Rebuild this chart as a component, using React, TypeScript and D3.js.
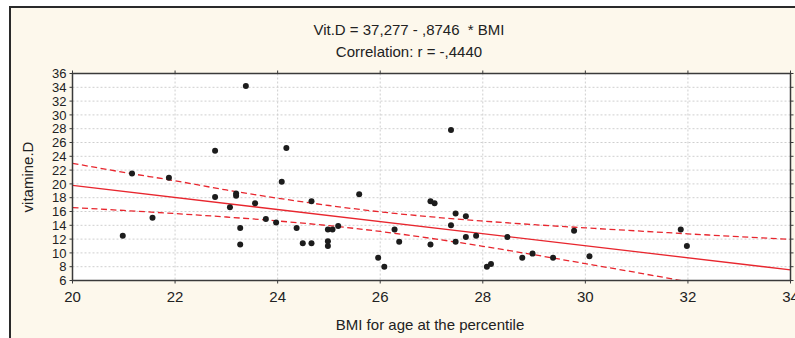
import React from "react";
import * as d3 from "d3";

// Scatter data: BMI (x) and vitamin D (y)
const bmi = [
  20.98, 21.16, 21.56, 21.88, 22.78, 22.78, 23.38, 23.07, 23.19, 23.19, 23.56, 23.27, 23.27,
  23.77, 23.97, 24.08, 24.17, 24.37, 24.49, 24.66, 24.66, 24.98, 25.07, 24.98, 24.98, 25.18,
  25.59, 25.96, 26.08, 26.28, 26.37, 26.98, 27.06, 26.98, 27.38, 27.38, 27.47, 27.47, 27.67,
  27.67, 27.87, 28.08, 28.16, 28.48, 28.77, 28.97, 29.37, 29.78, 30.08, 31.86, 31.98,
];
const vitD = [
  12.5, 21.5, 15.1, 20.9, 24.8, 18.1, 34.2, 16.6, 18.6, 18.3, 17.2, 13.6, 11.2,
  14.9, 14.4, 20.3, 25.2, 13.6, 11.4, 17.5, 11.4, 13.4, 13.4, 11.7, 11.0, 13.9,
  18.5, 9.3, 8.0, 13.4, 11.6, 17.5, 17.2, 11.2, 27.8, 14.0, 15.7, 11.6, 15.3,
  12.3, 12.5, 8.0, 8.4, 12.3, 9.3, 9.9, 9.3, 13.2, 9.5, 13.4, 11.0,
];

// Regression: Vit.D = 37.277 - 0.8746 * BMI
const intercept = 37.277;
const slope = -0.8746;

// 95% confidence band
const bandX = [20, 21, 22, 23, 24, 25, 26, 27, 28, 29, 30, 31, 32, 33, 34];
const bandUpper = [22.99, 21.67, 20.45, 19.12, 17.93, 16.87, 15.95, 15.22, 14.62, 14.09, 13.63, 13.19, 12.76, 12.35, 11.95];
const bandLower = [16.58, 16.15, 15.7, 15.2, 14.63, 13.95, 13.11, 12.1, 10.96, 9.73, 8.45, 7.15, 5.82, 4.47, 3.13];

const xTicks = [20, 22, 24, 26, 28, 30, 32, 34];
const yTicks = [6, 8, 10, 12, 14, 16, 18, 20, 22, 24, 26, 28, 30, 32, 34, 36];

const titleLine1 = "Vit.D = 37,277 - ,8746  * BMI";
const titleLine2 = "Correlation: r = -,4440";
const xLabel = "BMI for age at the percentile";
const yLabel = "vitamine.D";

export default function App() {
  const W = 795;
  const H = 338;
  const left = 72.5;
  const right = 790.5;
  const top = 73.5;
  const bottom = 280.5;
  const x = d3.scaleLinear().domain([20, 34]).range([left, right]);
  const y = d3.scaleLinear().domain([6, 36]).range([bottom, top]);

  const font = "'Liberation Sans Narrow', 'Liberation Sans', Arial, sans-serif";
  const red = "#e8262e";
  const ink = "#222";

  const regLine = d3
    .line<number>()
    .x((d) => x(d))
    .y((d) => y(intercept + slope * d))([20, 34]);

  const bandLine = (vals: number[]) =>
    d3
      .line<number>()
      .x((_, i) => x(bandX[i]))
      .y((d) => y(d))
      .curve(d3.curveMonotoneX)(vals);

  return (
    <svg
      width={W}
      height={H}
      style={{ position: "absolute", left: 0, top: 0, display: "block" }}
    >
      <defs>
        <clipPath id="plotClip">
          <rect x={left} y={top} width={right - left} height={bottom - top} />
        </clipPath>
      </defs>
      <rect x={0} y={0} width={W} height={H} fill="#ffffff" />
      <rect x={10} y={7} width={W} height={H} fill="#fdf8ec" stroke="#2a2a2a" strokeWidth={2} />

      {/* titles */}
      <text x={409} y={35} textAnchor="middle" fontFamily={font} fontSize={15} fill={ink} style={{ whiteSpace: "pre" }}>
        {titleLine1}
      </text>
      <text x={409} y={57} textAnchor="middle" fontFamily={font} fontSize={15} fill={ink} style={{ whiteSpace: "pre" }}>
        {titleLine2}
      </text>

      {/* plot area */}
      <rect x={left} y={top} width={right - left} height={bottom - top} fill="#ffffff" />

      {/* grid */}
      {yTicks.slice(1, -1).map((t) => (
        <line key={"gy" + t} x1={left} x2={right} y1={y(t)} y2={y(t)} stroke="#cfcfcf" strokeWidth={1} strokeDasharray="2,2" />
      ))}
      {xTicks.slice(1, -1).map((t) => (
        <line key={"gx" + t} x1={x(t)} x2={x(t)} y1={top} y2={bottom} stroke="#cfcfcf" strokeWidth={1} strokeDasharray="2,2" />
      ))}

      <g clipPath="url(#plotClip)">
        <path d={bandLine(bandUpper) || ""} fill="none" stroke={red} strokeWidth={1.3} strokeDasharray="6,3.5" />
        <path d={bandLine(bandLower) || ""} fill="none" stroke={red} strokeWidth={1.3} strokeDasharray="6,3.5" />
        <path d={regLine || ""} fill="none" stroke={red} strokeWidth={1.3} />
        {bmi.map((b, i) => (
          <circle key={i} cx={x(b)} cy={y(vitD[i])} r={3} fill="#1c1c1c" />
        ))}
      </g>

      {/* frame */}
      <rect x={left} y={top} width={right - left} height={bottom - top} fill="none" stroke="#3a3a3a" strokeWidth={1.5} />

      {/* ticks */}
      {yTicks.map((t) => (
        <g key={"ty" + t}>
          <line x1={left - 3} x2={left} y1={y(t)} y2={y(t)} stroke="#3a3a3a" strokeWidth={1} />
          <line x1={right} x2={right + 3} y1={y(t)} y2={y(t)} stroke="#3a3a3a" strokeWidth={1} />
          <text x={left - 6} y={y(t)} dy="0.36em" textAnchor="end" fontFamily={font} fontSize={13} fill={ink}>
            {t}
          </text>
        </g>
      ))}
      {xTicks.map((t) => (
        <g key={"tx" + t}>
          <line x1={x(t)} x2={x(t)} y1={bottom} y2={bottom + 3} stroke="#3a3a3a" strokeWidth={1} />
          <line x1={x(t)} x2={x(t)} y1={top - 3} y2={top} stroke="#3a3a3a" strokeWidth={1} />
          <text x={x(t)} y={302} textAnchor="middle" fontFamily={font} fontSize={15} fill={ink}>
            {t}
          </text>
        </g>
      ))}

      {/* axis labels */}
      <text x={430} y={330} textAnchor="middle" fontFamily={font} fontSize={15} fill={ink}>
        {xLabel}
      </text>
      <text
        transform={`translate(33, ${(top + bottom) / 2}) rotate(-90)`}
        textAnchor="middle"
        fontFamily={font}
        fontSize={15}
        fill={ink}
      >
        {yLabel}
      </text>
    </svg>
  );
}
